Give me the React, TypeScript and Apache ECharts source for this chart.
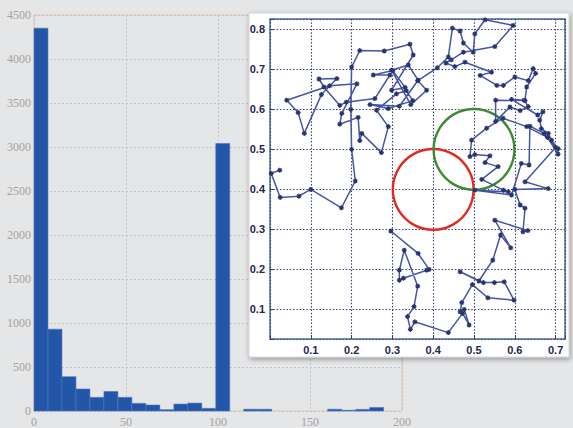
import React, { useEffect, useRef } from "react";
import * as echarts from "echarts";

// Histogram (main chart)
const histEdges = [0, 7.6, 15.2, 22.8, 30.4, 38, 45.6, 53.2, 60.8, 68.4, 76, 83.6, 91.2, 98.8, 106.4, 114, 121.6, 129.2, 136.8, 144.4, 152, 159.6, 167.2, 174.8, 182.4, 190];
const histCounts = [4350, 930, 390, 250, 155, 222, 155, 87, 68, 15, 79, 90, 30, 3040, 0, 20, 20, 0, 0, 0, 0, 20, 8, 18, 40];
const histXTicks = [0, 50, 100, 150, 200];
const histYTicks = [0, 500, 1000, 1500, 2000, 2500, 3000, 3500, 4000, 4500];

// Inset: random walk and two circles
const walkPoints: [number, number][] = [
  [0.024, 0.448], [0.003, 0.44], [0.025, 0.38], [0.071, 0.383], [0.1, 0.4], [0.175, 0.354], [0.209, 0.421], [0.2, 0.5], [0.198, 0.6], [0.2, 0.706],
  [0.22, 0.747], [0.28, 0.746], [0.343, 0.763], [0.351, 0.736], [0.298, 0.648], [0.331, 0.655], [0.301, 0.697], [0.253, 0.686], [0.294, 0.686], [0.257, 0.627],
  [0.187, 0.618], [0.171, 0.61], [0.132, 0.656], [0.12, 0.676], [0.164, 0.677], [0.126, 0.637], [0.084, 0.54], [0.069, 0.592], [0.041, 0.623], [0.146, 0.659],
  [0.213, 0.664], [0.176, 0.59], [0.171, 0.563], [0.216, 0.58], [0.22, 0.522], [0.225, 0.54], [0.273, 0.492], [0.29, 0.557], [0.261, 0.598], [0.31, 0.639],
  [0.334, 0.647], [0.35, 0.622], [0.29, 0.602], [0.245, 0.612], [0.317, 0.608], [0.363, 0.673], [0.339, 0.711], [0.298, 0.698], [0.345, 0.612], [0.384, 0.648],
  [0.362, 0.672], [0.41, 0.704], [0.437, 0.731], [0.447, 0.803], [0.466, 0.796], [0.474, 0.766], [0.498, 0.743], [0.502, 0.789], [0.527, 0.824], [0.596, 0.81],
  [0.551, 0.757], [0.474, 0.743], [0.444, 0.724], [0.431, 0.716], [0.453, 0.707], [0.478, 0.718], [0.543, 0.693], [0.515, 0.685], [0.556, 0.66], [0.572, 0.66],
  [0.6, 0.681], [0.633, 0.672], [0.645, 0.702], [0.651, 0.69], [0.629, 0.656], [0.625, 0.622], [0.553, 0.623], [0.553, 0.57], [0.588, 0.606], [0.613, 0.597],
  [0.633, 0.607], [0.623, 0.623], [0.592, 0.625], [0.656, 0.586], [0.669, 0.594], [0.661, 0.573], [0.665, 0.552], [0.682, 0.54], [0.69, 0.523], [0.706, 0.502],
  [0.706, 0.488], [0.68, 0.53], [0.629, 0.557], [0.571, 0.578], [0.531, 0.553], [0.494, 0.523], [0.49, 0.482], [0.502, 0.487], [0.539, 0.484], [0.527, 0.467],
  [0.559, 0.457], [0.519, 0.425], [0.572, 0.398], [0.584, 0.394], [0.502, 0.398], [0.592, 0.386], [0.616, 0.465], [0.635, 0.461], [0.637, 0.558], [0.672, 0.54],
  [0.7, 0.505], [0.625, 0.419], [0.682, 0.402], [0.6, 0.4], [0.613, 0.361], [0.625, 0.353], [0.62, 0.294], [0.632, 0.297], [0.551, 0.323], [0.59, 0.254],
  [0.565, 0.286], [0.546, 0.223], [0.512, 0.171], [0.466, 0.194], [0.523, 0.167], [0.55, 0.167], [0.574, 0.169], [0.598, 0.123], [0.534, 0.129], [0.496, 0.162],
  [0.47, 0.117], [0.466, 0.094], [0.476, 0.1], [0.488, 0.061], [0.472, 0.09], [0.437, 0.042], [0.355, 0.069], [0.344, 0.05], [0.337, 0.082], [0.353, 0.107],
  [0.362, 0.158], [0.329, 0.248], [0.317, 0.198], [0.317, 0.173], [0.327, 0.178], [0.384, 0.198], [0.39, 0.2], [0.363, 0.24], [0.296, 0.296],
];
const circleCenters: [number, number][] = [[0.4, 0.4], [0.5, 0.5]];
const circleRadii = [0.1, 0.1];
const circleColors = ["#e3291f", "#3c8a33"];

export default function App() {
  const ref = useRef<HTMLDivElement>(null);
  useEffect(() => {
    const chart = echarts.init(ref.current!, null, { renderer: "svg" });
    const histData = histCounts.map((c, i) => [histEdges[i], histEdges[i + 1], c]);
    const circleData = circleCenters.map((c, i) => [c[0], c[1], circleRadii[i]]);
    const histLabel = {
      color: "#a7a19b",
      fontFamily: "Liberation Serif",
      fontSize: 12,
      formatter: (v: number) => String(v),
    };
    const insetLabel = {
      color: "#1f2652",
      fontFamily: "Liberation Sans",
      fontWeight: "bold" as const,
      fontSize: 11,
      formatter: (v: number) =>
        v > 0.05 && Math.abs(v * 10 - Math.round(v * 10)) < 1e-6 ? v.toFixed(1) : "",
    };
    const option: any = {
      animation: false,
      backgroundColor: "#e4e6e8",
      graphic: [
        {
          type: "rect",
          z: 1,
          shape: { x: 249, y: 13, width: 320, height: 344 },
          style: {
            fill: "#ffffff",
            stroke: "#d0d2d4",
            lineWidth: 1,
            shadowBlur: 5,
            shadowColor: "rgba(0,0,0,0.35)",
            shadowOffsetX: 1,
            shadowOffsetY: 2,
          },
        },
      ],
      grid: [
        {
          left: 34, top: 15, width: 368, height: 397,
          show: true, borderColor: "#e2c9b3", borderWidth: 1, backgroundColor: "transparent", z: 0,
        },
        {
          left: 270, top: 19, width: 295, height: 320,
          show: true, borderColor: "#4a6da6", borderWidth: 1.5, backgroundColor: "rgba(0,0,0,0)", z: 2,
        },
      ],
      xAxis: [
        {
          gridIndex: 0, type: "value", min: histXTicks[0], max: histXTicks[histXTicks.length - 1], interval: 50,
          axisLine: { show: false }, axisTick: { show: false },
          axisLabel: { ...histLabel, margin: 5 },
          splitLine: { lineStyle: { color: "#c4c4c4", type: [2, 2], width: 1 } },
        },
        {
          gridIndex: 1, type: "value", min: 0, max: 0.723, interval: 0.1, z: 3,
          axisLine: { show: false },
          axisTick: { inside: true, length: 4, lineStyle: { color: "#2e3d6e" } },
          axisLabel: { ...insetLabel, margin: 5 },
          splitLine: { lineStyle: { color: "#34426f", type: [1.5, 1.8], width: 1.1 } },
        },
      ],
      yAxis: [
        {
          gridIndex: 0, type: "value", min: histYTicks[0], max: histYTicks[histYTicks.length - 1], interval: 500,
          axisLine: { show: false }, axisTick: { show: false },
          axisLabel: { ...histLabel, margin: 3 },
          splitLine: { lineStyle: { color: "#c4c4c4", type: [2, 2], width: 1 } },
        },
        {
          gridIndex: 1, type: "value", min: 0.026, max: 0.826, splitNumber: 8, z: 3,
          axisLine: { show: false },
          axisTick: { inside: true, length: 4, lineStyle: { color: "#2e3d6e" } },
          axisLabel: { ...insetLabel, margin: 5 },
          splitLine: { lineStyle: { color: "#34426f", type: [1.5, 1.8], width: 1.1 } },
        },
      ],
      series: [
        {
          type: "custom",
          xAxisIndex: 0, yAxisIndex: 0,
          encode: { x: [0, 1], y: 2 },
          data: histData,
          renderItem: (params: any, api: any) => {
            const h = api.value(2);
            if (!h) return null;
            const p0 = api.coord([api.value(0), 0]);
            const p1 = api.coord([api.value(1), h]);
            return {
              type: "rect",
              shape: { x: p0[0], y: p1[1], width: p1[0] - p0[0], height: p0[1] - p1[1] },
              style: { fill: "#2356a8", stroke: "#4f76bb", lineWidth: 0.6 },
            };
          },
        },
        {
          type: "custom",
          xAxisIndex: 1, yAxisIndex: 1, z: 4,
          encode: { x: 0, y: 1 },
          data: circleData,
          renderItem: (params: any, api: any) => {
            const c = api.coord([api.value(0), api.value(1)]);
            const s = api.size([api.value(2), api.value(2)]);
            return {
              type: "circle",
              shape: { cx: c[0], cy: c[1], r: (s[0] + s[1]) / 2 },
              style: { fill: "none", stroke: circleColors[params.dataIndex], lineWidth: 2.4 },
            };
          },
        },
        {
          type: "line",
          xAxisIndex: 1, yAxisIndex: 1, z: 5,
          data: walkPoints,
          symbol: "path://M5,0L5,10M0,5L10,5M1.5,1.5L8.5,8.5M1.5,8.5L8.5,1.5",
          symbolSize: 5,
          showAllSymbol: true,
          lineStyle: { color: "#4455a5", width: 1.5 },
          itemStyle: { color: "#27346f", borderColor: "#27346f", borderWidth: 1.2 },
        },
      ],
    };
    chart.setOption(option);
    return () => chart.dispose();
  }, []);
  return (
    <div
      ref={ref}
      style={{ position: "absolute", left: 0, top: 0, width: 573, height: 428 }}
    />
  );
}
